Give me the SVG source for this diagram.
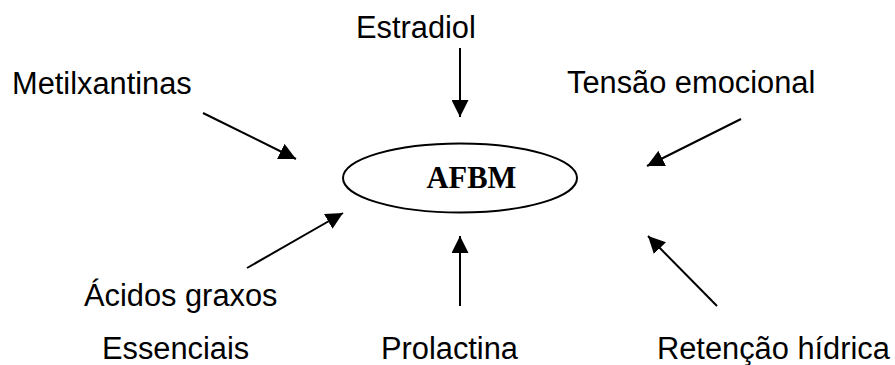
<svg xmlns="http://www.w3.org/2000/svg" width="895" height="365" viewBox="0 0 895 365">
  <style>
    .lbl { font-family: "Liberation Sans", Arial, sans-serif; font-size: 30.8px; fill: #000; }
    .core { font-family: "Liberation Serif", "Times New Roman", serif; font-size: 30.5px; font-weight: bold; fill: #000; }
    .edge { stroke: #000; stroke-width: 2; fill: none; }
  </style>
  <defs>
    <marker id="head" viewBox="0 0 10 10" refX="10" refY="5" markerWidth="8.5" markerHeight="8.5" markerUnits="strokeWidth" orient="auto">
      <path d="M0,0 L10,5 L0,10 Z" fill="#000"/>
    </marker>
  </defs>

  <g id="afbm">
    <ellipse cx="460" cy="178" rx="117" ry="34.5" fill="#fff" stroke="#000" stroke-width="2"/>
    <text class="core" x="471.5" y="188" text-anchor="middle">AFBM</text>
  </g>

  <g id="estradiol"><text class="lbl" x="356" y="38">Estradiol</text></g>
  <g id="metilxantinas"><text class="lbl" x="12" y="94">Metilxantinas</text></g>
  <g id="tensao"><text class="lbl" x="567" y="93">Tensão emocional</text></g>
  <g id="acidos">
    <text class="lbl" x="84" y="306">Ácidos graxos</text>
    <text class="lbl" x="102" y="359">Essenciais</text>
  </g>
  <g id="prolactina"><text class="lbl" x="381" y="359">Prolactina</text></g>
  <g id="retencao"><text class="lbl" x="657" y="359">Retenção hídrica</text></g>

  <g id="connectors">
    <line class="edge" x1="460" y1="48" x2="460" y2="117" marker-end="url(#head)"/>
    <line class="edge" x1="203" y1="113" x2="296" y2="159" marker-end="url(#head)"/>
    <line class="edge" x1="741" y1="119" x2="647" y2="166" marker-end="url(#head)"/>
    <line class="edge" x1="247" y1="268" x2="343" y2="213" marker-end="url(#head)"/>
    <line class="edge" x1="460" y1="306" x2="460" y2="236" marker-end="url(#head)"/>
    <line class="edge" x1="717" y1="306" x2="648" y2="236" marker-end="url(#head)"/>
  </g>
</svg>
